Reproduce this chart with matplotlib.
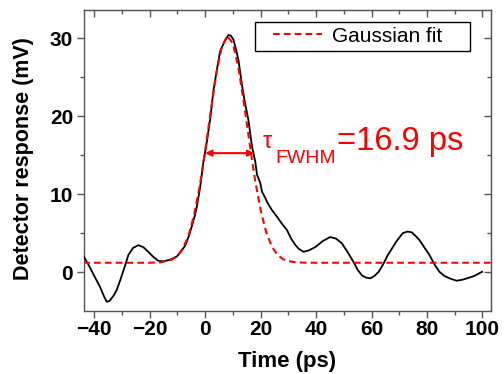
import matplotlib
matplotlib.use("Agg")
import matplotlib.pyplot as plt
from matplotlib.patches import Rectangle
from matplotlib.ticker import MultipleLocator

plt.rcParams['font.family'] = ['Liberation Sans', 'DejaVu Sans']

# ---- data ----
time_ps = [-43.7, -42.0, -40.0, -37.9, -36.5, -35.5, -34.5, -33.0, -31.9, -30.5,
           -29.0, -27.7, -26.0, -24.1, -22.3, -20.5, -18.7, -16.9, -15.0, -12.6,
           -10.2, -9.0, -7.2, -6.0, -4.8, -3.6, -3.0, -1.8, -0.6, 0.0,
           0.9, 1.8, 3.0, 4.2, 5.4, 6.9, 8.4, 9.3, 10.2, 11.1,
           12.0, 13.2, 14.2, 15.6, 16.9, 17.4, 18.05, 18.7, 19.9, 20.5,
           21.7, 22.3, 24.0, 25.9, 27.7, 29.5, 31.0, 32.5, 33.7, 35.5,
           37.5, 39.7, 42.5, 45.1, 47.2, 49.3, 51.5, 53.5, 55.0, 56.5,
           58.0, 59.6, 61.0, 62.6, 64.2, 65.9, 67.5, 68.9, 71.3, 73.0,
           74.5, 76.0, 77.3, 79.0, 80.9, 82.7, 84.5, 86.3, 88.2, 90.6,
           92.5, 94.5, 97.0, 99.9]
response_mv = [1.96, 0.9, -0.5, -1.9, -3.1, -3.8, -3.7, -3.0, -2.3, -0.9,
               0.7, 2.2, 3.1, 3.46, 3.2, 2.6, 1.95, 1.45, 1.38, 1.6,
               2.0, 2.5, 3.4, 4.5, 5.9, 7.4, 8.4, 10.9, 14.2, 15.4,
               17.4, 19.6, 23.3, 25.9, 28.3, 29.5, 30.4, 30.3, 29.8, 28.6,
               27.2, 24.2, 22.0, 19.5, 16.1, 15.3, 14.2, 12.5, 11.4, 10.3,
               9.5, 9.0, 8.0, 7.1, 6.2, 5.4, 4.3, 3.5, 3.0, 2.6,
               2.8, 3.2, 4.0, 4.5, 4.3, 3.7, 2.5, 1.3, 0.3, -0.4,
               -0.7, -0.8, -0.5, 0.04, 1.0, 2.2, 3.1, 3.9, 5.0, 5.2,
               5.1, 4.6, 4.1, 3.2, 2.2, 1.0, 0.04, -0.5, -0.8, -1.1,
               -1.0, -0.8, -0.5, 0.04]

fit_time_ps = [-44, -20, -16, -12, -10, -8, -6, -4, -2, 0, 2, 4, 6, 8, 10,
               12, 14, 16, 18, 20, 22, 24, 26, 28, 30, 33, 36, 40, 103]
fit_mv = [1.2, 1.2, 1.26, 1.60, 2.10, 3.05, 4.70, 7.30, 10.95, 15.56, 20.6,
          25.4, 28.9, 30.3, 29.3, 26.2, 21.6, 16.6, 11.8, 7.96, 5.13, 3.31,
          2.24, 1.67, 1.40, 1.25, 1.21, 1.2, 1.2]

fwhm_left, fwhm_right, fwhm_level = 0.0, 17.7, 15.25

x_major = [-40, -20, 0, 20, 40, 60, 80, 100]
y_major = [0, 10, 20, 30]

# ---- figure ----
fig = plt.figure(figsize=(5.04, 3.74), dpi=100)
ax = fig.add_axes([84/504, (374-310.5)/374, 407/504, 300.5/374])

ax.plot(time_ps, response_mv, color='black', lw=1.3, zorder=3)
ax.plot(fit_time_ps, fit_mv, color='#ff0000', lw=1.5, ls=(0, (3.2, 2.0)),
        zorder=4, label='Gaussian fit')

ax.annotate('', xy=(fwhm_left, fwhm_level), xytext=(fwhm_right, fwhm_level),
            arrowprops=dict(arrowstyle='<|-|>', color='#ff0000', lw=1.5,
                            mutation_scale=9, shrinkA=0, shrinkB=0), zorder=5)

ax.set_xlim(-43.7, 103.1)
ax.set_ylim(-4.92, 33.6)
ax.set_xticks(x_major)
ax.set_yticks(y_major)
ax.xaxis.set_minor_locator(MultipleLocator(10))
ax.yaxis.set_minor_locator(MultipleLocator(5))

spine_c = '#555555'
for s in ax.spines.values():
    s.set_color(spine_c)
    s.set_linewidth(1.0)

ax.tick_params(which='both', direction='out', color=spine_c, width=1.0,
               top=False, right=False)
ax.tick_params(which='major', length=4.8)
ax.tick_params(which='minor', length=3.0)
ax.tick_params(axis='x', pad=2)
ax.tick_params(axis='y', pad=3)
for lab in ax.get_xticklabels() + ax.get_yticklabels():
    lab.set_fontsize(15)
    lab.set_fontweight('bold')

# inward mirror ticks on top and right
top = ax.secondary_xaxis('top')
top.set_xticks(x_major)
top.xaxis.set_minor_locator(MultipleLocator(10))
top.tick_params(which='both', direction='in', color=spine_c, width=1.0,
                labeltop=False)
top.tick_params(which='major', length=4.8)
top.tick_params(which='minor', length=3.0)
top.spines['top'].set_color(spine_c)
right = ax.secondary_yaxis('right')
right.set_yticks(y_major)
right.yaxis.set_minor_locator(MultipleLocator(5))
right.tick_params(which='both', direction='in', color=spine_c, width=1.0,
                  labelright=False)
right.tick_params(which='major', length=4.8)
right.tick_params(which='minor', length=3.0)
right.spines['right'].set_color(spine_c)

# axis labels
fig.text(286.7/504, (374-367)/374, 'Time (ps)', ha='center', va='baseline',
         fontsize=16, fontweight='bold')
fig.text(24/504, (374-158.3)/374, 'Detector response (mV)', ha='center',
         va='center', rotation=90, fontsize=15.5, fontweight='bold')

# legend
leg = ax.legend(loc='center left', bbox_to_anchor=((272.7-84)/407, (310.5-36.2)/300.5),
                frameon=False, fontsize=15, handlelength=2.35, handletextpad=0.48,
                borderpad=0, borderaxespad=0)
ax.add_patch(Rectangle(((255-84)/407, (310.5-50.7)/300.5), 215/407, 29/300.5,
                       transform=ax.transAxes, fill=False, edgecolor='black',
                       lw=1.0, zorder=6, clip_on=False))

# annotation text
def afx(px):
    return (px - 84) / 407

def afy(py):
    return (310.5 - py) / 300.5

ax.text(afx(263), afy(148), 'τ', transform=ax.transAxes, color='#ff0000',
        fontsize=17, ha='left', va='baseline')
ax.text(afx(275), afy(163), 'FWHM', transform=ax.transAxes, color='#ff0000',
        fontsize=14, ha='left', va='baseline')
ax.text(afx(337), afy(150), '=16.9 ps', transform=ax.transAxes, color='#ff0000',
        fontsize=23.5, ha='left', va='baseline')

fig.savefig('out.png', dpi=100)
